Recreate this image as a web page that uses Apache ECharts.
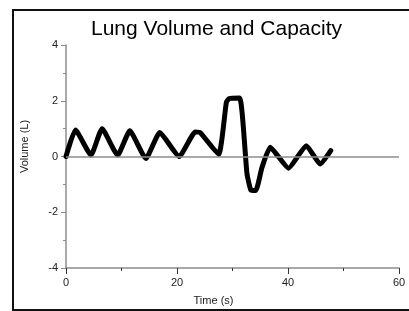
<!DOCTYPE html>
<html>
<head>
<meta charset="utf-8">
<script src="https://cdn.jsdelivr.net/npm/echarts@6/dist/echarts.min.js"></script>
<style>
  html, body { margin: 0; padding: 0; background: #fff; overflow: hidden; }
  #lung_chart { width: 409px; height: 311px; }
</style>
</head>
<body>
<div id="lung_chart"></div>
<script>
// time (s) and volume (L)
var time = [0, 1.7, 4.5, 6.5, 9.3, 11.5, 14.4, 16.9, 20.4, 23.3, 24.2, 27.5,
            28.9, 29.4, 31.3, 32.6, 33.3, 34.2, 35.3, 36.8, 40.1, 43.3, 45.8, 47.7];
var volume = [0, 0.95, 0.05, 1.0, 0.05, 0.92, -0.07, 0.86, 0.0, 0.88, 0.85, 0.08,
              1.95, 2.08, 2.1, -0.6, -1.2, -1.22, -0.4, 0.33, -0.42, 0.39, -0.27, 0.21];
var xTicks = [0, 20, 40, 60];
var yTicks = [-4, -2, 0, 2, 4];

var points = [];
for (var i = 0; i < time.length; i++) {
  points.push([time[i], volume[i]]);
}

var chartDom = document.getElementById('lung_chart');
var myChart = echarts.init(chartDom);
var axisGrey = '#8c8c8c';
var frame = { stroke: '#111', lineWidth: 2 };
var option = {
  animation: false,
  textStyle: { fontFamily: 'Liberation Sans' },
  title: {
    text: 'Lung Volume and Capacity',
    left: 86,
    top: 14,
    textStyle: { fontSize: 21, fontWeight: 'normal', color: '#000', fontFamily: 'Liberation Sans' }
  },
  graphic: [
    { type: 'line', silent: true, shape: { x1: 13, y1: 10, x2: 430, y2: 10 }, style: frame },
    { type: 'line', silent: true, shape: { x1: 13, y1: 9, x2: 13, y2: 311 }, style: frame },
    { type: 'line', silent: true, shape: { x1: 13, y1: 310, x2: 430, y2: 310 }, style: frame }
  ],
  grid: { left: 66, right: 10, top: 45, bottom: 41 },
  xAxis: {
    type: 'value',
    min: xTicks[0],
    max: xTicks[xTicks.length - 1],
    interval: 20,
    name: 'Time (s)',
    nameLocation: 'middle',
    nameGap: 27,
    nameTextStyle: { fontSize: 11, color: '#222', padding: [0, 38, 0, 0] },
    axisLine: { onZero: false, lineStyle: { color: axisGrey, width: 1.5 } },
    axisTick: { length: 6, lineStyle: { color: '#333' } },
    minorTick: { show: true, splitNumber: 2, length: 3, lineStyle: { color: '#333' } },
    axisLabel: { fontSize: 11, color: '#222', margin: 9 },
    splitLine: { show: false }
  },
  yAxis: {
    type: 'value',
    min: yTicks[0],
    max: yTicks[yTicks.length - 1],
    interval: 2,
    name: 'Volume (L)',
    nameLocation: 'middle',
    nameGap: 36,
    nameTextStyle: { fontSize: 11, color: '#222', padding: [0, 0, 0, 20] },
    axisLine: { show: true, onZero: false, lineStyle: { color: axisGrey, width: 1.5 } },
    axisTick: { show: true, length: 5, lineStyle: { color: axisGrey } },
    minorTick: { show: true, splitNumber: 2, length: 3, lineStyle: { color: axisGrey } },
    axisLabel: { fontSize: 11, color: '#222', margin: 8 },
    splitLine: { show: false }
  },
  series: [
    {
      name: 'Volume',
      type: 'line',
      data: points,
      showSymbol: false,
      smooth: 0.15,
      lineStyle: { color: '#000', width: 5, join: 'round', cap: 'round' },
      markLine: {
        silent: true,
        symbol: 'none',
        label: { show: false },
        lineStyle: { color: axisGrey, width: 1.5, type: 'solid' },
        data: [{ yAxis: 0 }]
      },
      z: 3
    }
  ]
};
option && myChart.setOption(option);
</script>
</body>
</html>
